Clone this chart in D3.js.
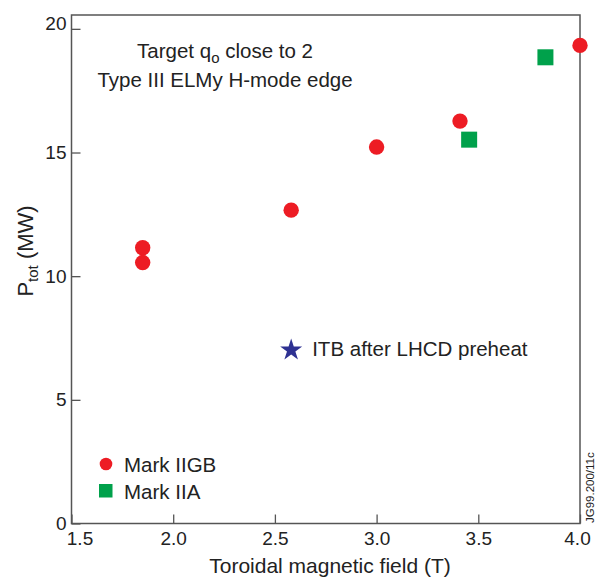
<!DOCTYPE html>
<html><head><meta charset="utf-8">
<script src="https://cdn.jsdelivr.net/npm/d3@7"></script>
<style>body{margin:0;background:#fff}svg{display:block;font-family:"Liberation Sans",Arial,Helvetica,sans-serif}</style>
</head><body><svg id="c" width="600" height="577"></svg>
<script>
const xTicks=[1.5,2.0,2.5,3.0,3.5,4.0];
const yTicks=[0,5,10,15,20];
const markIIGB_x=[1.85,1.85,2.58,3.0,3.41,4.0];
const markIIGB_y=[11.15,10.55,12.67,15.22,16.27,19.33];
const markIIA_x=[3.455,3.83];
const markIIA_y=[15.52,18.85];
const itb_x=[2.58];
const itb_y=[7.05];
const legendLabels=["Mark IIGB","Mark IIA"];

const svg=d3.select("#c");
const L=71.5,R=580,T=15,B=523.5;
const x=d3.scaleLinear().domain([1.5,4.0]).range([L,R]);
const y=d3.scaleLinear().domain([0,20.56]).range([B,T]);
const axisCol="#555";
const txt="#222";
const FF="Liberation Sans, Arial, sans-serif";

// frame
svg.append("rect").attr("x",L).attr("y",T).attr("width",R-L).attr("height",B-T)
  .attr("fill","none").attr("stroke",axisCol).attr("stroke-width",1.5);

// x axis
const gx=svg.append("g").attr("transform",`translate(0,${B})`)
  .call(d3.axisBottom(x).tickValues(xTicks).tickFormat(d3.format(".1f")).tickSizeInner(-9).tickSizeOuter(0).tickPadding(8));
gx.select(".domain").remove();
gx.selectAll("line").attr("stroke",axisCol).attr("stroke-width",1.3);
gx.selectAll("text").attr("font-size",19).attr("fill",txt).attr("font-family",FF);
gx.selectAll(".tick").filter(d=>d===1.5).select("text").attr("dx",8);
gx.selectAll(".tick").filter(d=>d===4.0).select("text").attr("dx",-3);

// y axis
const gy=svg.append("g").attr("transform",`translate(${L},0)`)
  .call(d3.axisLeft(y).tickValues(yTicks).tickSizeInner(-9).tickSizeOuter(0).tickPadding(5));
gy.select(".domain").remove();
gy.selectAll("line").attr("stroke",axisCol).attr("stroke-width",1.3);
gy.selectAll("text").attr("font-size",19).attr("fill",txt).attr("font-family",FF);
gy.selectAll(".tick").filter(d=>d===20).select("text").attr("dy","0.05em");

// axis titles
svg.append("text").attr("x",330).attr("y",573).attr("text-anchor","middle")
  .attr("font-size",21).attr("fill",txt).text("Toroidal magnetic field (T)");
const yl=svg.append("text").attr("transform","translate(33,251) rotate(-90)").attr("text-anchor","middle")
  .attr("font-size",22).attr("fill",txt);
yl.append("tspan").text("P");
yl.append("tspan").attr("font-size",15).attr("dy",5).text("tot");
yl.append("tspan").attr("dy",-5).text(" (MW)");

// annotation
const t1=svg.append("text").attr("x",225).attr("y",58).attr("text-anchor","middle").attr("font-size",20.5).attr("fill",txt);
t1.append("tspan").text("Target q");
t1.append("tspan").attr("font-size",15).attr("dy",5).text("o");
t1.append("tspan").attr("dy",-5).text(" close to 2");
svg.append("text").attr("x",225).attr("y",87).attr("text-anchor","middle").attr("font-size",20.5).attr("fill",txt).text("Type III ELMy H-mode edge");

// data
const red="#ed1c24",green="#00a14b",blue="#2e3192";
svg.append("g").selectAll("circle").data(d3.range(markIIGB_x.length)).join("circle")
  .attr("cx",i=>x(markIIGB_x[i])).attr("cy",i=>y(markIIGB_y[i])).attr("r",7.7).attr("fill",red);
const sq=16;
svg.append("g").selectAll("rect").data(d3.range(markIIA_x.length)).join("rect")
  .attr("x",i=>x(markIIA_x[i])-sq/2).attr("y",i=>y(markIIA_y[i])-sq/2).attr("width",sq).attr("height",sq).attr("fill",green);
const star=d3.symbol().type(d3.symbolStar).size(150);
svg.append("g").selectAll("path").data(d3.range(itb_x.length)).join("path")
  .attr("transform",i=>`translate(${x(itb_x[i])},${y(itb_y[i])+1})`).attr("d",star).attr("fill",blue);
svg.append("text").attr("x",x(itb_x[0])+21).attr("y",y(itb_y[0])+7).attr("font-size",20.5).attr("fill",txt).text("ITB after LHCD preheat");

// legend
svg.append("circle").attr("cx",106).attr("cy",464).attr("r",6.3).attr("fill",red);
svg.append("text").attr("x",124).attr("y",472).attr("font-size",20.5).attr("fill",txt).text(legendLabels[0]);
svg.append("rect").attr("x",99).attr("y",484).attr("width",13.5).attr("height",13.5).attr("fill",green);
svg.append("text").attr("x",124).attr("y",499).attr("font-size",20.5).attr("fill",txt).text(legendLabels[1]);

// id tag
svg.append("text").attr("transform","translate(594,523) rotate(-90)").attr("font-size",11.5).attr("fill",txt).text("JG99.200/11c");
</script></body></html>
